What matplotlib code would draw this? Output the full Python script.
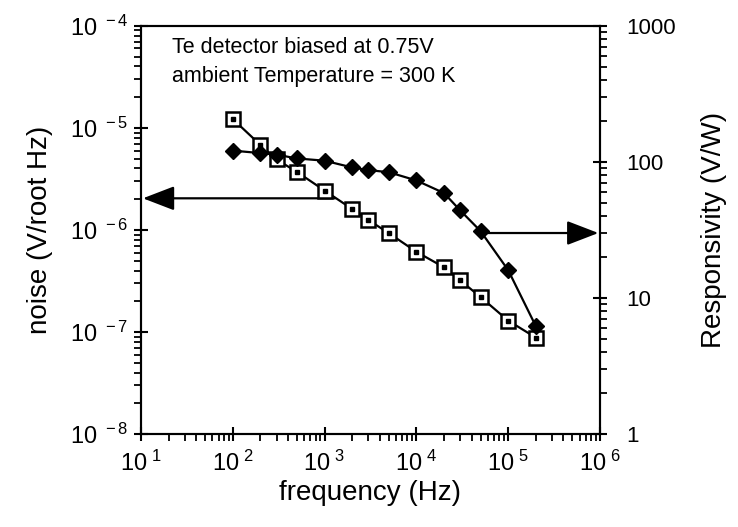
import math
import matplotlib
matplotlib.use("Agg")
import matplotlib.pyplot as plt
from matplotlib.ticker import LogLocator, FuncFormatter, NullFormatter

plt.rcParams['font.family'] = ['Liberation Sans', 'DejaVu Sans']
plt.rcParams['mathtext.default'] = 'regular'

# frequency points (Hz)
freq = [100, 200, 300, 500, 1e3, 2e3, 3e3, 5e3, 1e4, 2e4, 3e4, 5e4, 1e5, 2e5]

# noise (V/root Hz), left axis
noise = [1.22e-5, 6.8e-6, 4.9e-6, 3.7e-6, 2.43e-6, 1.6e-6, 1.25e-6, 9.3e-7,
         6.1e-7, 4.3e-7, 3.2e-7, 2.2e-7, 1.29e-7, 8.8e-8]

# responsivity (V/W), right axis
resp = [121, 116, 113, 106, 102, 91, 87, 84, 73, 59, 44, 31, 16, 6.2]

annot_lines = ["Te detector biased at 0.75V", "ambient Temperature = 300 K"]


def sci_fmt(v, pos):
    if v <= 0:
        return ""
    e = int(round(math.log10(v)))
    return r"10$^{\ %d}$" % e


fig = plt.figure(figsize=(7.38, 5.27), dpi=100)
ax = fig.add_axes([0.191, 0.1765, 0.622, 0.7745])

ax.set_xscale('log')
ax.set_yscale('log')
ax.set_xlim(10, 1e6)
ax.set_ylim(1e-8, 1e-4)

# noise curve: open squares with a dot in the middle
ax.plot(freq, noise, color='black', lw=1.6, marker='s', markersize=10,
        markerfacecolor='white', markeredgecolor='black', markeredgewidth=1.8,
        zorder=3)
ax.plot(freq, noise, ls='none', marker='s', markersize=2.5, color='black', zorder=4)

ax2 = ax.twinx()
ax2.set_yscale('log')
ax2.set_ylim(1, 1000)
ax2.plot(freq, resp, color='black', lw=1.6, marker='D', markersize=8.5,
         markerfacecolor='black', markeredgecolor='black', zorder=3)

for a in (ax, ax2):
    for s in a.spines.values():
        s.set_linewidth(1.5)

ax.xaxis.set_major_locator(LogLocator(base=10, numticks=10))
ax.xaxis.set_minor_locator(LogLocator(base=10, subs=range(2, 10), numticks=20))
ax.yaxis.set_major_locator(LogLocator(base=10, numticks=10))
ax.yaxis.set_minor_locator(LogLocator(base=10, subs=range(2, 10), numticks=20))
ax.xaxis.set_major_formatter(FuncFormatter(sci_fmt))
ax.yaxis.set_major_formatter(FuncFormatter(sci_fmt))
ax.xaxis.set_minor_formatter(NullFormatter())
ax.yaxis.set_minor_formatter(NullFormatter())

ax2.yaxis.set_major_locator(LogLocator(base=10, numticks=10))
ax2.yaxis.set_minor_locator(LogLocator(base=10, subs=range(2, 10), numticks=20))
ax2.yaxis.set_major_formatter(FuncFormatter(lambda v, p: "%d" % round(v)))
ax2.yaxis.set_minor_formatter(NullFormatter())

ax.tick_params(axis='both', which='major', direction='inout', length=10, width=1.5,
               labelsize=17, top=False, right=False)
ax.tick_params(axis='both', which='minor', direction='out', length=5, width=1.3,
               top=False, right=False)
ax.tick_params(axis='y', which='major', pad=4)
ax.tick_params(axis='x', which='major', pad=7)
ax2.tick_params(axis='y', which='major', direction='inout', length=10, width=1.5,
                labelsize=16, pad=14)
ax2.tick_params(axis='y', which='minor', direction='out', length=5, width=1.3)

ax.set_xlabel("frequency (Hz)", fontsize=20, labelpad=3)
ax.set_ylabel("noise (V/root Hz)", fontsize=20, labelpad=12)
ax2.set_ylabel("Responsivity (V/W)", fontsize=20, labelpad=18)

# arrows showing which axis each curve belongs to
arrow_style = '-|>,head_length=1.3,head_width=0.5'
ax.annotate("", xy=(10.5, 2.04e-6), xytext=(1.3e3, 2.04e-6),
            arrowprops=dict(arrowstyle=arrow_style, color='black', lw=1.6,
                            mutation_scale=15, shrinkA=0, shrinkB=0), zorder=2)
ax2.annotate("", xy=(9.6e5, 30), xytext=(5e4, 30),
             arrowprops=dict(arrowstyle=arrow_style, color='black', lw=1.6,
                             mutation_scale=15, shrinkA=0, shrinkB=0), zorder=2)

ax.text(0.068, 0.946, annot_lines[0], transform=ax.transAxes, fontsize=15.5,
        va='center', ha='left')
ax.text(0.068, 0.877, annot_lines[1], transform=ax.transAxes, fontsize=15.5,
        va='center', ha='left')

fig.savefig("out.png", dpi=100)
